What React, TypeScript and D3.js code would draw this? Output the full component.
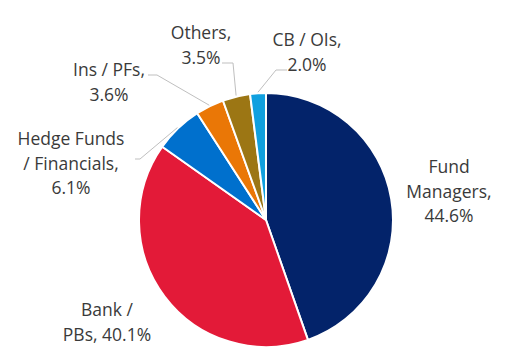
import React from 'react';
import * as d3 from 'd3';

const categories = ['Fund Managers', 'Bank / PBs', 'Hedge Funds / Financials', 'Ins / PFs', 'Others', 'CB / OIs'];
const shares = [44.6, 40.1, 6.1, 3.6, 3.5, 2.0];
const labelLines = [
  ['Fund', 'Managers,', '44.6%'],
  ['Bank /', 'PBs, 40.1%'],
  ['Hedge Funds', '/ Financials,', '6.1%'],
  ['Ins / PFs,', '3.6%'],
  ['Others,', '3.5%'],
  ['CB / OIs,', '2.0%'],
];
const colors = ['#03236A', '#E31A38', '#0070CD', '#EA7706', '#9C7614', '#10A0DF'];

// label layout: centre x, first line y, and elbow of the leader line (null = no leader)
const labelPos = [
  { x: 449, y: 167, elbow: null as null | [number, number, number] },
  { x: 107, y: 310, elbow: null },
  { x: 71, y: 139, elbow: [135, 140, 159] },
  { x: 109, y: 70, elbow: [148, 157, 75] },
  { x: 201, y: 33, elbow: [222, 233, 63] },
  { x: 307, y: 40, elbow: [287, 276, 70] },
];

const W = 506;
const H = 353;
const cx = 266;
const cy = 220;
const R = 127;

export default function App() {
  const data = categories.map((c, i) => ({ name: c, value: shares[i] }));
  const pie = d3.pie<{ name: string; value: number }>().sort(null).value((d) => d.value);
  const arcs = pie(data);
  const arc = d3.arc<d3.PieArcDatum<{ name: string; value: number }>>().innerRadius(0).outerRadius(R);
  const lineHeight = 24.5;

  return (
    <svg width={W} height={H} style={{ display: 'block', position: 'absolute', left: 0, top: 0 }}>
      <rect width={W} height={H} fill="#fff" />
      <g transform={`translate(${cx},${cy})`}>
        {arcs.map((a, i) => (
          <path key={i} d={arc(a) as string} fill={colors[i]} stroke="#fff" strokeWidth={2} strokeLinejoin="round" />
        ))}
      </g>
      {arcs.map((a, i) => {
        const p = labelPos[i];
        if (!p.elbow) return null;
        const mid = (a.startAngle + a.endAngle) / 2;
        const ex = cx + Math.sin(mid) * (R + 1);
        const ey = cy - Math.cos(mid) * (R + 1);
        const [x0, x1, y] = p.elbow;
        return (
          <polyline
            key={'l' + i}
            points={`${x0},${y} ${x1},${y} ${ex},${ey}`}
            fill="none"
            stroke="#BFBFBF"
            strokeWidth={1}
          />
        );
      })}
      {labelLines.map((lines, i) => (
        <text
          key={'t' + i}
          textAnchor="middle"
          fontFamily="'Open Sans', sans-serif"
          fontSize={17.5}
          fill="#3A3A3A"
        >
          {lines.map((ln, j) => (
            <tspan key={j} x={labelPos[i].x} y={labelPos[i].y + j * lineHeight} dy="0.35em">
              {ln}
            </tspan>
          ))}
        </text>
      ))}
    </svg>
  );
}
